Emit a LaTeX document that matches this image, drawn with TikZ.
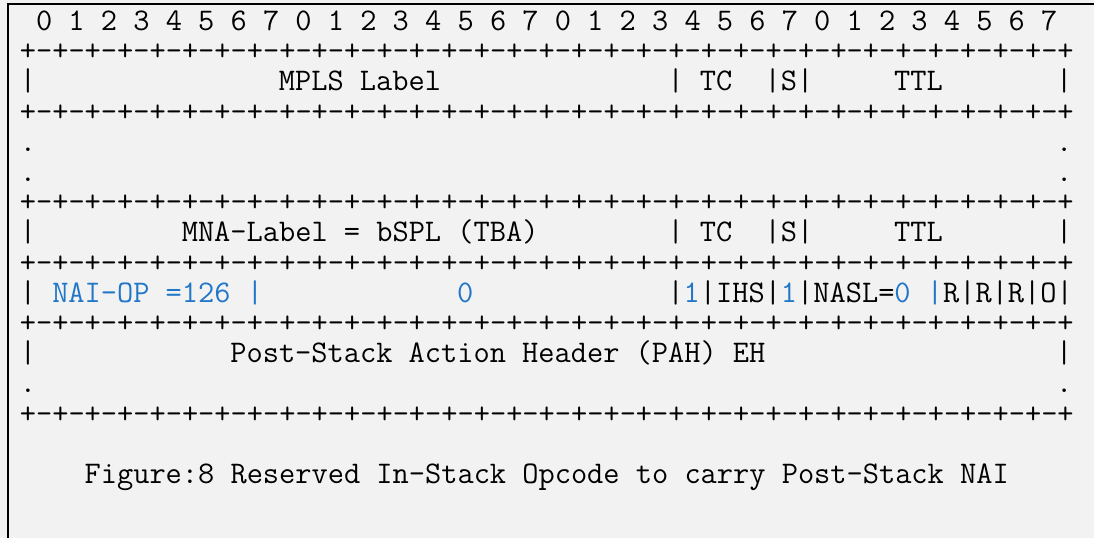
\documentclass[tikz,border=0pt]{standalone}
\usepackage{fontspec}
\usepackage{tikz}
\definecolor{paper}{RGB}{242,242,242}
\definecolor{naiblue}{RGB}{33,119,199}
\newcommand{\cw}{16.19}
\newcommand{\xo}{19.9}
\newcommand{\plusrow}{+-+-+-+-+-+-+-+-+-+-+-+-+-+-+-+-+-+-+-+-+-+-+-+-+-+-+-+-+-+-+-+-+}
\newcommand{\nai}[1]{\textcolor{naiblue}{#1}}
\tikzset{txt/.style={anchor=base west, inner sep=0pt, outer sep=0pt,
    font=\ttfamily\fontsize{23.61pt}{27pt}\selectfont}}

\begin{document}
\begin{tikzpicture}[x=0.75pt, y=-0.75pt]
        \useasboundingbox (0,0) rectangle (1094,538);
        \fill[paper] (0,0) rectangle (1094,538);
        \draw[line width=1.5pt] (8.3,538) -- (8.3,4.3) -- (1094,4.3);

        % bit ruler
        \node[txt] (bits) at ({\xo+\cw*1}, 30.5) {0 1 2 3 4 5 6 7 0 1 2 3 4 5 6 7 0 1 2 3 4 5 6 7 0 1 2 3 4 5 6 7};
        \node[txt] (sepA) at (\xo, 60.7) {\plusrow};

        % MPLS label stack entry
        \node[txt] (lA) at (\xo, 90.9) {|};
        \node[txt] (mpls) at ({\xo+\cw*16}, 90.9) {MPLS Label};
        \node[txt] (tcA) at ({\xo+\cw*40}, 90.9) {| TC};
        \node[txt] (sA) at ({\xo+\cw*46}, 90.9) {|S|};
        \node[txt] (ttlA) at ({\xo+\cw*54}, 90.9) {TTL};
        \node[txt] (rA) at ({\xo+\cw*64}, 90.9) {|};
        \node[txt] (sepB) at (\xo, 121.1) {\plusrow};

        \node[txt] (dA) at (\xo, 151.3) {.};
        \node[txt] (dB) at ({\xo+\cw*64}, 151.3) {.};
        \node[txt] (dC) at (\xo, 181.5) {.};
        \node[txt] (dD) at ({\xo+\cw*64}, 181.5) {.};
        \node[txt] (sepC) at (\xo, 211.7) {\plusrow};

        % MNA label
        \node[txt] (lB) at (\xo, 241.9) {|};
        \node[txt] (mna) at ({\xo+\cw*10}, 241.9) {MNA-Label = bSPL (TBA)};
        \node[txt] (tcB) at ({\xo+\cw*40}, 241.9) {| TC};
        \node[txt] (sB) at ({\xo+\cw*46}, 241.9) {|S|};
        \node[txt] (ttlB) at ({\xo+\cw*54}, 241.9) {TTL};
        \node[txt] (rB) at ({\xo+\cw*64}, 241.9) {|};
        \node[txt] (sepD) at (\xo, 272.1) {\plusrow};

        % NAI opcode
        \node[txt] (lC) at (\xo, 302.3) {|};
        \node[txt] (naiop) at ({\xo+\cw*2}, 302.3) {\nai{NAI-OP =126 |}};
        \node[txt] (zero) at ({\xo+\cw*27}, 302.3) {\nai{0}};
        \node[txt] (flags) at ({\xo+\cw*40}, 302.3) {|\nai{1}|IHS|\nai{1}|NASL=\nai{0 |}R|R|R|O|};
        \node[txt] (sepE) at (\xo, 332.5) {\plusrow};

        % post-stack header
        \node[txt] (lD) at (\xo, 362.7) {|};
        \node[txt] (pah) at ({\xo+\cw*13}, 362.7) {Post-Stack Action Header (PAH) EH};
        \node[txt] (rD) at ({\xo+\cw*64}, 362.7) {|};
        \node[txt] (dE) at (\xo, 392.9) {.};
        \node[txt] (dF) at ({\xo+\cw*64}, 392.9) {.};
        \node[txt] (sepF) at (\xo, 423.1) {\plusrow};

        \node[txt] (caption) at ({\xo+\cw*4}, 483.5) {Figure:8 Reserved In-Stack Opcode to carry Post-Stack NAI};
    \end{tikzpicture}
\end{document}
